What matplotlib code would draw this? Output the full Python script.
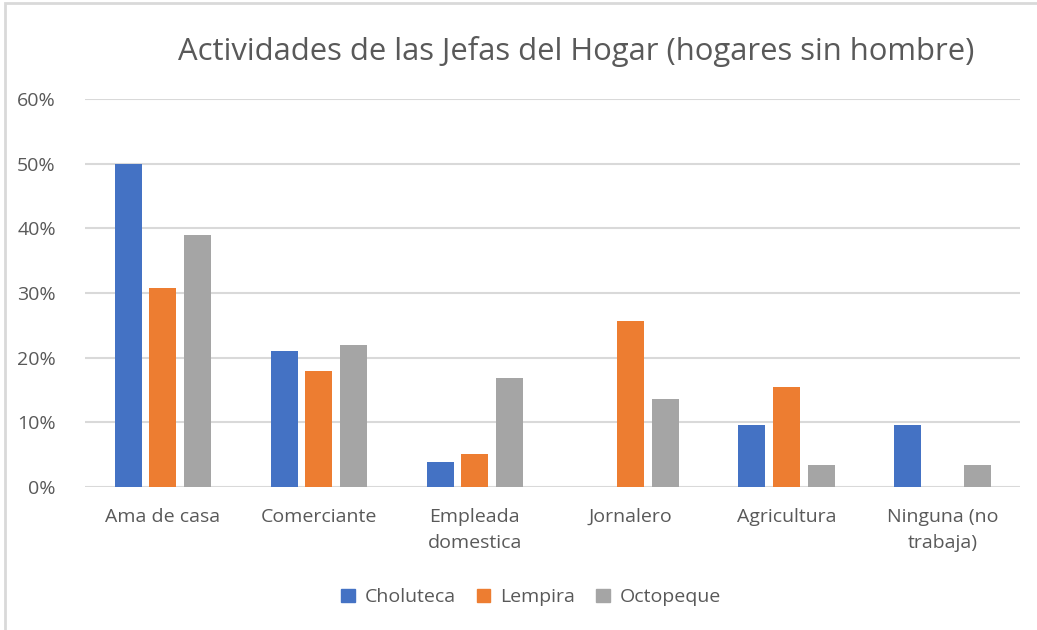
import matplotlib
matplotlib.use('Agg')
import matplotlib.pyplot as plt
import numpy as np
from matplotlib.patches import Patch, Rectangle
from matplotlib.ticker import PercentFormatter

categories = ["Ama de casa", "Comerciante", "Empleada\ndomestica",
              "Jornalero", "Agricultura", "Ninguna (no\ntrabaja)"]
series_names = ["Choluteca", "Lempira", "Octopeque"]
choluteca = [0.50, 0.21, 0.039, 0.0, 0.096, 0.096]
lempira = [0.308, 0.179, 0.051, 0.257, 0.154, 0.0]
octopeque = [0.39, 0.22, 0.169, 0.136, 0.034, 0.034]
colors = ["#4472c4", "#ed7d31", "#a5a5a5"]
yticks = [0, 0.1, 0.2, 0.3, 0.4, 0.5, 0.6]

plt.rcParams['font.family'] = ['Open Sans', 'DejaVu Sans']
text_col = "#595959"

fig = plt.figure(figsize=(10.37, 6.3), dpi=100)
ax = fig.add_axes([0.082, 0.227, 0.902, 0.616])

# chart frame (light gray border at top/left)
fig.patches.append(Rectangle((0.005, -0.1), 1.2, 1.095, transform=fig.transFigure,
                             fill=False, edgecolor="#d9d9d9", linewidth=2))

x = np.arange(len(categories))
width = 0.173
step = 0.222
for i, (vals, name) in enumerate(zip([choluteca, lempira, octopeque], series_names)):
    ax.bar(x + (i - 1) * step, vals, width, color=colors[i], label=name, zorder=3)

ax.set_xlim(-0.5, len(categories) - 0.5)
ax.set_ylim(0, 0.6)
ax.set_yticks(yticks)
ax.yaxis.set_major_formatter(PercentFormatter(1.0, decimals=0))
ax.set_xticks(x)
ax.set_xticklabels(categories, fontsize=14, color=text_col, linespacing=1.6)
ax.tick_params(axis='y', labelsize=14, labelcolor=text_col, length=0, pad=21)
ax.tick_params(axis='x', length=0, pad=15)
ax.grid(axis='y', color="#d9d9d9", linewidth=1.5, zorder=0)
for s in ax.spines.values():
    s.set_visible(False)

fig.text(0.556, 0.918, "Actividades de las Jefas del Hogar (hogares sin hombre)",
         ha='center', va='center', fontsize=22.3, color=text_col)

handles = [Patch(color=c) for c in colors]
fig.legend(handles, series_names, loc='center', bbox_to_anchor=(0.512, 0.052),
           ncol=3, frameon=False, fontsize=14, labelcolor=text_col,
           handlelength=0.7, handleheight=0.7, handletextpad=0.5, columnspacing=1.1)

fig.savefig("out.png", dpi=100, facecolor="white")
